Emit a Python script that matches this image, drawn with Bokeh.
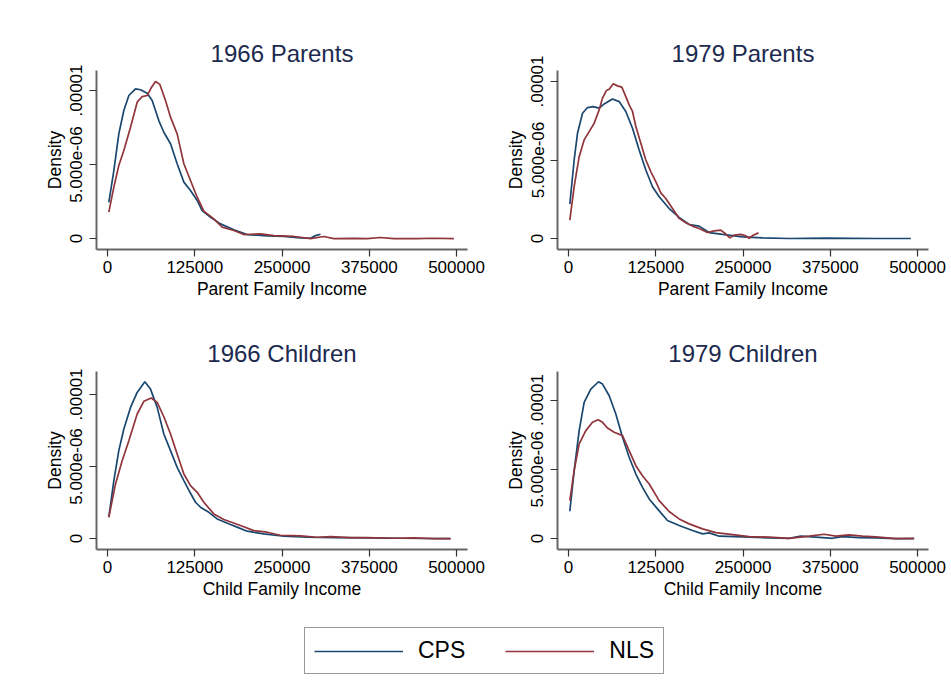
from bokeh.plotting import figure
from bokeh.layouts import column, row
from bokeh.models import Range1d, FixedTicker, NumeralTickFormatter, Legend, LegendItem
from bokeh.embed import file_html
from bokeh.resources import INLINE

FONT = "Liberation Sans"
CPS_COLOR = "#1a476f"
NLS_COLOR = "#90353b"
TITLE_COLOR = "#1c2a50"

series_names = ["CPS", "NLS"]
panel_titles = ["1966 Parents", "1979 Parents", "1966 Children", "1979 Children"]
x_axis_labels = ["Parent Family Income", "Parent Family Income", "Child Family Income", "Child Family Income"]
y_axis_label = "Density"
x_ticks = [0, 125000, 250000, 375000, 500000]
y_ticks = [0, 5e-6, 1e-5]
y_tick_labels = ["0", "5.000e-06", ".00001"]

# ---- 1966 Parents ----
tl_cps_x = [1900, 9100, 16200, 23400, 30600, 40100, 47300, 56800, 64000, 73500, 80700, 90300, 99800,
            109400, 118900, 128500, 135600, 147600, 161900, 181000, 200100, 228700, 252600, 276500,
            290800, 298000, 305200]
tl_cps_y = [2.45e-6, 4.59e-6, 7.07e-6, 8.65e-6, 9.66e-6, 10.11e-6, 10.05e-6, 9.82e-6, 9.32e-6, 7.97e-6,
            7.18e-6, 6.40e-6, 5.05e-6, 3.81e-6, 3.24e-6, 2.57e-6, 1.89e-6, 1.44e-6, 0.99e-6, 0.59e-6,
            0.27e-6, 0.18e-6, 0.14e-6, 0.05e-6, 0.02e-6, 0.20e-6, 0.29e-6]
tl_nls_x = [1900, 9100, 16200, 23400, 33000, 42500, 49700, 56800, 62600, 68800, 75000, 83100, 90300,
            99800, 109400, 118900, 128500, 138000, 152300, 164300, 181000, 195300, 219200, 238300,
            266900, 290800, 309900, 324300, 352900, 372000, 391100, 410200, 443600, 467500, 496200]
tl_nls_y = [1.78e-6, 3.47e-6, 4.93e-6, 5.95e-6, 7.52e-6, 9.21e-6, 9.59e-6, 9.66e-6, 10.18e-6, 10.61e-6,
            10.41e-6, 9.32e-6, 8.20e-6, 7.07e-6, 5.05e-6, 3.92e-6, 2.79e-6, 1.85e-6, 1.33e-6, 0.77e-6,
            0.54e-6, 0.27e-6, 0.32e-6, 0.20e-6, 0.14e-6, 0.00e-6, 0.14e-6, 0.00e-6, 0.01e-6, 0.00e-6,
            0.07e-6, 0.00e-6, 0.00e-6, 0.02e-6, 0.00e-6]

# ---- 1979 Parents ----
tr_cps_x = [1900, 8100, 12900, 20100, 27200, 35300, 43900, 51100, 63000, 72600, 82100, 91700, 101200,
            110800, 120300, 129900, 144200, 158500, 172900, 187200, 201500, 220600, 249300, 277900,
            316100, 368700, 440300, 490400]
tr_cps_y = [2.19e-6, 5.00e-6, 6.70e-6, 7.98e-6, 8.34e-6, 8.40e-6, 8.30e-6, 8.57e-6, 8.89e-6, 8.72e-6,
            8.09e-6, 7.02e-6, 5.64e-6, 4.36e-6, 3.30e-6, 2.66e-6, 1.91e-6, 1.34e-6, 0.89e-6, 0.79e-6,
            0.38e-6, 0.26e-6, 0.11e-6, 0.04e-6, 0.00e-6, 0.02e-6, 0.00e-6, 0.00e-6]
tr_nls_x = [1900, 8100, 15300, 22400, 29600, 36800, 43900, 48700, 54400, 58300, 64000, 70200, 76400,
            82100, 86900, 91700, 96500, 103600, 110800, 117900, 125100, 132300, 139400, 149000, 158500,
            168100, 177600, 187200, 199100, 208700, 218200, 224400, 231100, 237300, 246900, 254100,
            258800, 264600, 272200]
tr_nls_y = [1.17e-6, 3.30e-6, 5.21e-6, 6.28e-6, 6.81e-6, 7.34e-6, 8.19e-6, 8.94e-6, 9.43e-6, 9.51e-6,
            9.85e-6, 9.72e-6, 9.64e-6, 9.04e-6, 8.51e-6, 8.09e-6, 7.13e-6, 6.06e-6, 5.00e-6, 4.26e-6,
            3.62e-6, 2.91e-6, 2.55e-6, 1.91e-6, 1.28e-6, 1.00e-6, 0.79e-6, 0.64e-6, 0.38e-6, 0.49e-6,
            0.53e-6, 0.32e-6, 0.04e-6, 0.21e-6, 0.26e-6, 0.17e-6, 0.02e-6, 0.21e-6, 0.36e-6]

# ---- 1966 Children ----
bl_cps_x = [1900, 9100, 16200, 23400, 33000, 42500, 53500, 61600, 71200, 80700, 90300, 99800, 109400,
            118900, 126100, 133200, 145200, 157100, 176200, 185700, 200100, 223900, 252600, 286000,
            324300, 372000, 419800, 491400]
bl_cps_y = [1.48e-6, 4.02e-6, 6.10e-6, 7.60e-6, 9.10e-6, 10.14e-6, 10.88e-6, 10.37e-6, 9.10e-6, 7.25e-6,
            6.10e-6, 4.94e-6, 4.02e-6, 3.14e-6, 2.52e-6, 2.17e-6, 1.82e-6, 1.36e-6, 0.97e-6, 0.79e-6,
            0.51e-6, 0.32e-6, 0.16e-6, 0.09e-6, 0.07e-6, 0.05e-6, 0.02e-6, 0.00e-6]
bl_nls_x = [1900, 11500, 21000, 30600, 42500, 52100, 62600, 71200, 80700, 90300, 99800, 109400, 118900,
            128500, 138000, 152300, 166700, 190500, 209600, 228700, 247800, 276500, 300400, 319500,
            348100, 372000, 410200, 438900, 467500, 491400]
bl_nls_y = [1.48e-6, 3.79e-6, 5.40e-6, 6.79e-6, 8.64e-6, 9.52e-6, 9.75e-6, 9.45e-6, 8.45e-6, 7.25e-6,
            5.87e-6, 4.48e-6, 3.67e-6, 3.21e-6, 2.52e-6, 1.71e-6, 1.32e-6, 0.90e-6, 0.55e-6, 0.44e-6,
            0.23e-6, 0.18e-6, 0.09e-6, 0.14e-6, 0.07e-6, 0.07e-6, 0.02e-6, 0.05e-6, 0.00e-6, 0.00e-6]

# ---- 1979 Children ----
br_cps_x = [1900, 8100, 15300, 22400, 32000, 43000, 48700, 58300, 67800, 77400, 86900, 96500, 106000,
            115600, 127500, 141800, 158500, 177600, 192000, 201500, 215900, 249300, 287500, 316100,
            332900, 354300, 378200, 392600, 416400, 440300, 468900, 495200]
br_cps_y = [1.97e-6, 4.90e-6, 7.79e-6, 9.83e-6, 10.79e-6, 11.32e-6, 11.15e-6, 10.31e-6, 8.99e-6, 7.31e-6,
            5.87e-6, 4.66e-6, 3.70e-6, 2.86e-6, 2.14e-6, 1.30e-6, 0.94e-6, 0.58e-6, 0.34e-6, 0.41e-6,
            0.17e-6, 0.12e-6, 0.05e-6, 0.02e-6, 0.17e-6, 0.10e-6, 0.02e-6, 0.14e-6, 0.07e-6, 0.05e-6,
            0.00e-6, 0.00e-6]
br_nls_x = [1900, 8100, 15300, 24800, 34400, 42500, 48700, 55900, 65400, 77400, 86900, 96500, 106000,
            115600, 129900, 144200, 158500, 172900, 192000, 211100, 235000, 258800, 287500, 316100,
            344800, 366300, 383000, 402100, 421200, 440300, 468900, 495200]
br_nls_y = [2.74e-6, 4.90e-6, 6.83e-6, 7.79e-6, 8.39e-6, 8.58e-6, 8.39e-6, 7.98e-6, 7.67e-6, 7.43e-6,
            6.35e-6, 5.26e-6, 4.54e-6, 3.94e-6, 2.74e-6, 1.95e-6, 1.42e-6, 1.06e-6, 0.70e-6, 0.43e-6,
            0.29e-6, 0.14e-6, 0.10e-6, 0.02e-6, 0.17e-6, 0.31e-6, 0.17e-6, 0.26e-6, 0.17e-6, 0.12e-6,
            0.00e-6, 0.02e-6]

X_RANGE = (-15760, 515760)
Y_RANGES = [(-0.74e-6, 11.35e-6), (-0.70e-6, 10.70e-6), (-0.76e-6, 11.59e-6), (-0.79e-6, 12.06e-6)]


def make_panel(idx, cx, cy, nx, ny, width, height, left, right, top, bottom, title_standoff):
    p = figure(width=width, height=height, output_backend="svg", toolbar_location=None,
               x_range=Range1d(*X_RANGE), y_range=Range1d(*Y_RANGES[idx]),
               min_border_left=left, min_border_right=right, min_border_top=top, min_border_bottom=bottom,
               title=panel_titles[idx])
    p.background_fill_color = "white"
    p.border_fill_color = "white"
    p.outline_line_color = None
    p.grid.visible = False
    p.title.align = "center"
    p.title.text_font = FONT
    p.title.text_font_size = "24px"
    p.title.text_font_style = "normal"
    p.title.text_color = TITLE_COLOR
    p.title.standoff = title_standoff

    p.line(cx, cy, line_color=CPS_COLOR, line_width=1.7)
    p.line(nx, ny, line_color=NLS_COLOR, line_width=1.7)

    for ax in (p.xaxis[0], p.yaxis[0]):
        ax.axis_line_color = "#666666"
        ax.axis_line_width = 2
        ax.major_tick_line_color = "#333333"
        ax.major_tick_line_width = 1.2
        ax.major_tick_out = 7
        ax.major_tick_in = 0
        ax.minor_tick_out = 0
        ax.minor_tick_in = 0
        ax.major_label_text_font = FONT
        ax.major_label_text_font_size = "17px"
        ax.major_label_text_color = "black"
        ax.axis_label_text_font = FONT
        ax.axis_label_text_font_size = "17.5px"
        ax.axis_label_text_font_style = "normal"
        ax.axis_label_text_color = "black"

    p.xaxis.major_label_standoff = 4
    p.xaxis.axis_label_standoff = 3
    p.yaxis.major_label_standoff = 7
    p.yaxis.axis_label_standoff = 3

    p.xaxis.ticker = FixedTicker(ticks=x_ticks)
    p.xaxis.formatter = NumeralTickFormatter(format="0")
    p.xaxis.axis_label = x_axis_labels[idx]

    p.yaxis.ticker = FixedTicker(ticks=y_ticks)
    p.yaxis.major_label_overrides = {t: lab for t, lab in zip(y_ticks, y_tick_labels)}
    p.yaxis.major_label_orientation = "parallel"
    p.yaxis.axis_label = y_axis_label
    return p


tl = make_panel(0, tl_cps_x, tl_cps_y, tl_nls_x, tl_nls_y, 490, 310, 96, 23, 70, 61, 8)
tr = make_panel(1, tr_cps_x, tr_cps_y, tr_nls_x, tr_nls_y, 461, 310, 67, 23, 70, 61, 8)
bl = make_panel(2, bl_cps_x, bl_cps_y, bl_nls_x, bl_nls_y, 490, 300, 96, 23, 61, 61, 10)
br = make_panel(3, br_cps_x, br_cps_y, br_nls_x, br_nls_y, 461, 300, 67, 23, 61, 61, 10)

# legend strip: the series are drawn here outside the visible range, only their legend swatches show
leg = figure(width=951, height=84, output_backend="svg", toolbar_location=None,
             x_range=Range1d(-2, -1), y_range=Range1d(-2, -1), x_axis_type=None, y_axis_type=None,
             min_border=0)
leg.outline_line_color = None
leg.grid.visible = False
leg.background_fill_color = "white"
leg.border_fill_color = "white"
r_cps = leg.line(tl_cps_x, tl_cps_y, line_color=CPS_COLOR, line_width=1.7)
r_nls = leg.line(tl_nls_x, tl_nls_y, line_color=NLS_COLOR, line_width=1.7)
legend = Legend(items=[LegendItem(label=series_names[0], renderers=[r_cps]),
                       LegendItem(label=series_names[1], renderers=[r_nls])],
                orientation="horizontal", location=(304, 20), margin=0, padding=9,
                glyph_width=89, glyph_height=24, label_standoff=15, spacing=40,
                label_text_font=FONT, label_text_font_size="23px", label_text_color="black",
                border_line_color="#333333", border_line_width=1.6, background_fill_color="white",
                background_fill_alpha=1.0)
leg.add_layout(legend)

layout = column(row(tl, tr, spacing=0), row(bl, br, spacing=0), leg, spacing=0)
open("out.html", "w").write(file_html(layout, INLINE))
